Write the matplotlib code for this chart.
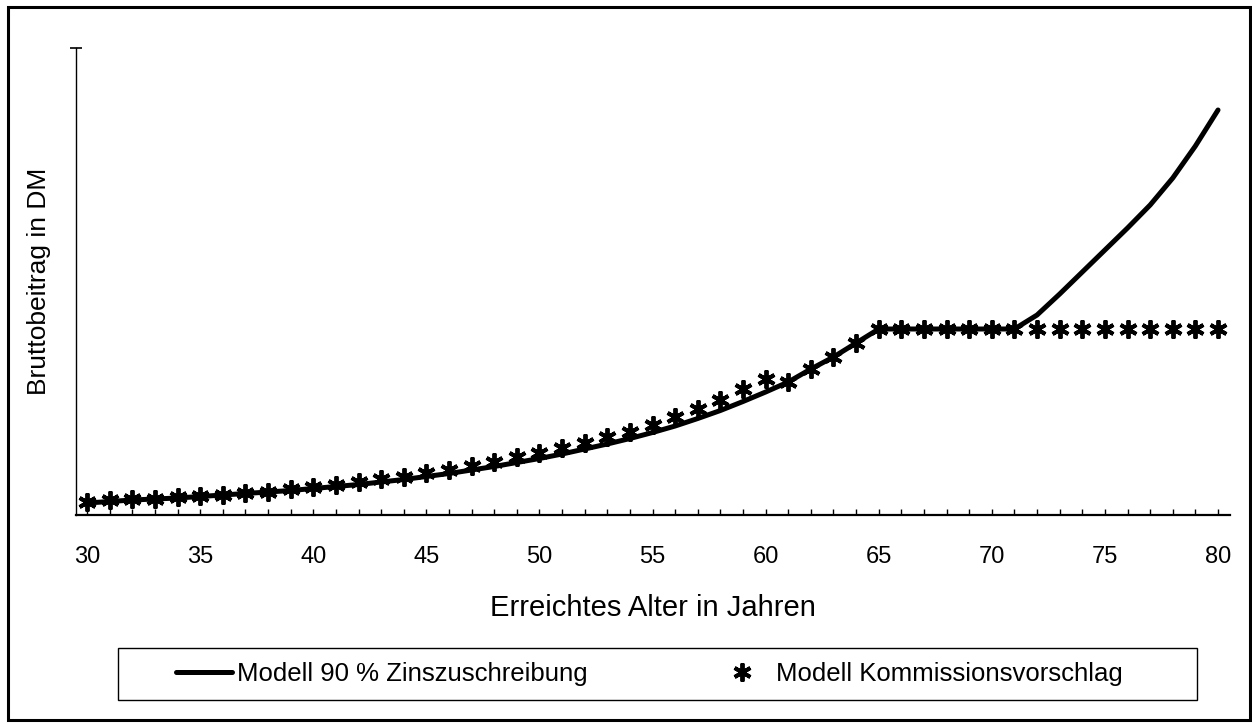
import numpy as np
import matplotlib.pyplot as plt
from matplotlib.patches import Rectangle
from matplotlib.ticker import MultipleLocator

plt.rcParams['font.family'] = ['Liberation Sans', 'DejaVu Sans']

ages = np.arange(30, 81)

# Modell 90 % Zinszuschreibung (solid line), arbitrary DM scale
zins = [12, 13.5, 15, 16, 17, 18.5, 20, 21.5, 23, 24.5,
        26.5, 28.5, 30.5, 33, 35.5, 38.5, 41.5, 45, 48.5, 52.5,
        56.5, 61, 66, 71, 76.5, 82.5, 89, 96.5, 104.5, 113.5,
        123, 133, 146, 158, 172, 186, 186, 186, 186, 186,
        186, 186, 200, 221, 243, 265, 287, 310, 337, 369, 405]

# Modell Kommissionsvorschlag (asterisks)
komm = [13, 15, 16, 16.5, 18, 19, 20.5, 22.5, 23.5, 26,
        28, 30, 33, 36, 38.5, 42, 45, 49, 53, 58,
        62, 67, 72, 78, 83, 90, 98, 106, 115, 126,
        136, 133, 146, 158, 172, 186, 186, 186, 186, 186,
        186, 186, 186, 186, 186, 186, 186, 186, 186, 186, 186]

fig = plt.figure(figsize=(12.52, 7.28), dpi=100)
ax = fig.add_axes([76/1252, 213/728, 1154/1252, 467/728])

ln, = ax.plot(ages, zins, color='black', lw=3.6, solid_capstyle='round',
              label='Modell 90 % Zinszuschreibung')
mk, = ax.plot(ages, komm, ls='none', marker=(6, 2, 0), ms=13, mew=2.8,
              color='black', label='Modell Kommissionsvorschlag')

ax.set_xlim(29.51, 80.53)
ax.set_ylim(0, 467)

for s in ['top', 'right']:
    ax.spines[s].set_visible(False)
ax.spines['bottom'].set_linewidth(1.6)
ax.spines['left'].set_linewidth(1.0)

ax.xaxis.set_major_locator(MultipleLocator(5))
ax.xaxis.set_minor_locator(MultipleLocator(1))
ax.tick_params(axis='x', which='both', direction='in', length=4, width=1)
ax.tick_params(axis='x', which='major', labelsize=17, pad=22)
ax.set_yticks([467])
ax.set_yticklabels([])
ax.tick_params(axis='y', direction='inout', length=9, width=1.2)

ax.set_xlabel('Erreichtes Alter in Jahren', fontsize=21, labelpad=19)
ax.set_ylabel('Bruttobeitrag in DM', fontsize=19, labelpad=10)

leg = fig.legend(handles=[ln, mk], loc='center', bbox_to_anchor=(649/1252, 54/728),
                 ncol=2, frameon=False, fontsize=18.5, handlelength=2.2,
                 handletextpad=0.2, columnspacing=4.9)

# legend box and outer frame
fig.add_artist(Rectangle((118/1252, 28/728), 1079/1252, 52/728, transform=fig.transFigure,
                         fill=False, ec='black', lw=1.0))
fig.add_artist(Rectangle((8/1252, 8/728), 1242/1252, 713/728, transform=fig.transFigure,
                         fill=False, ec='black', lw=2.2))

fig.savefig('out.png', dpi=100)
